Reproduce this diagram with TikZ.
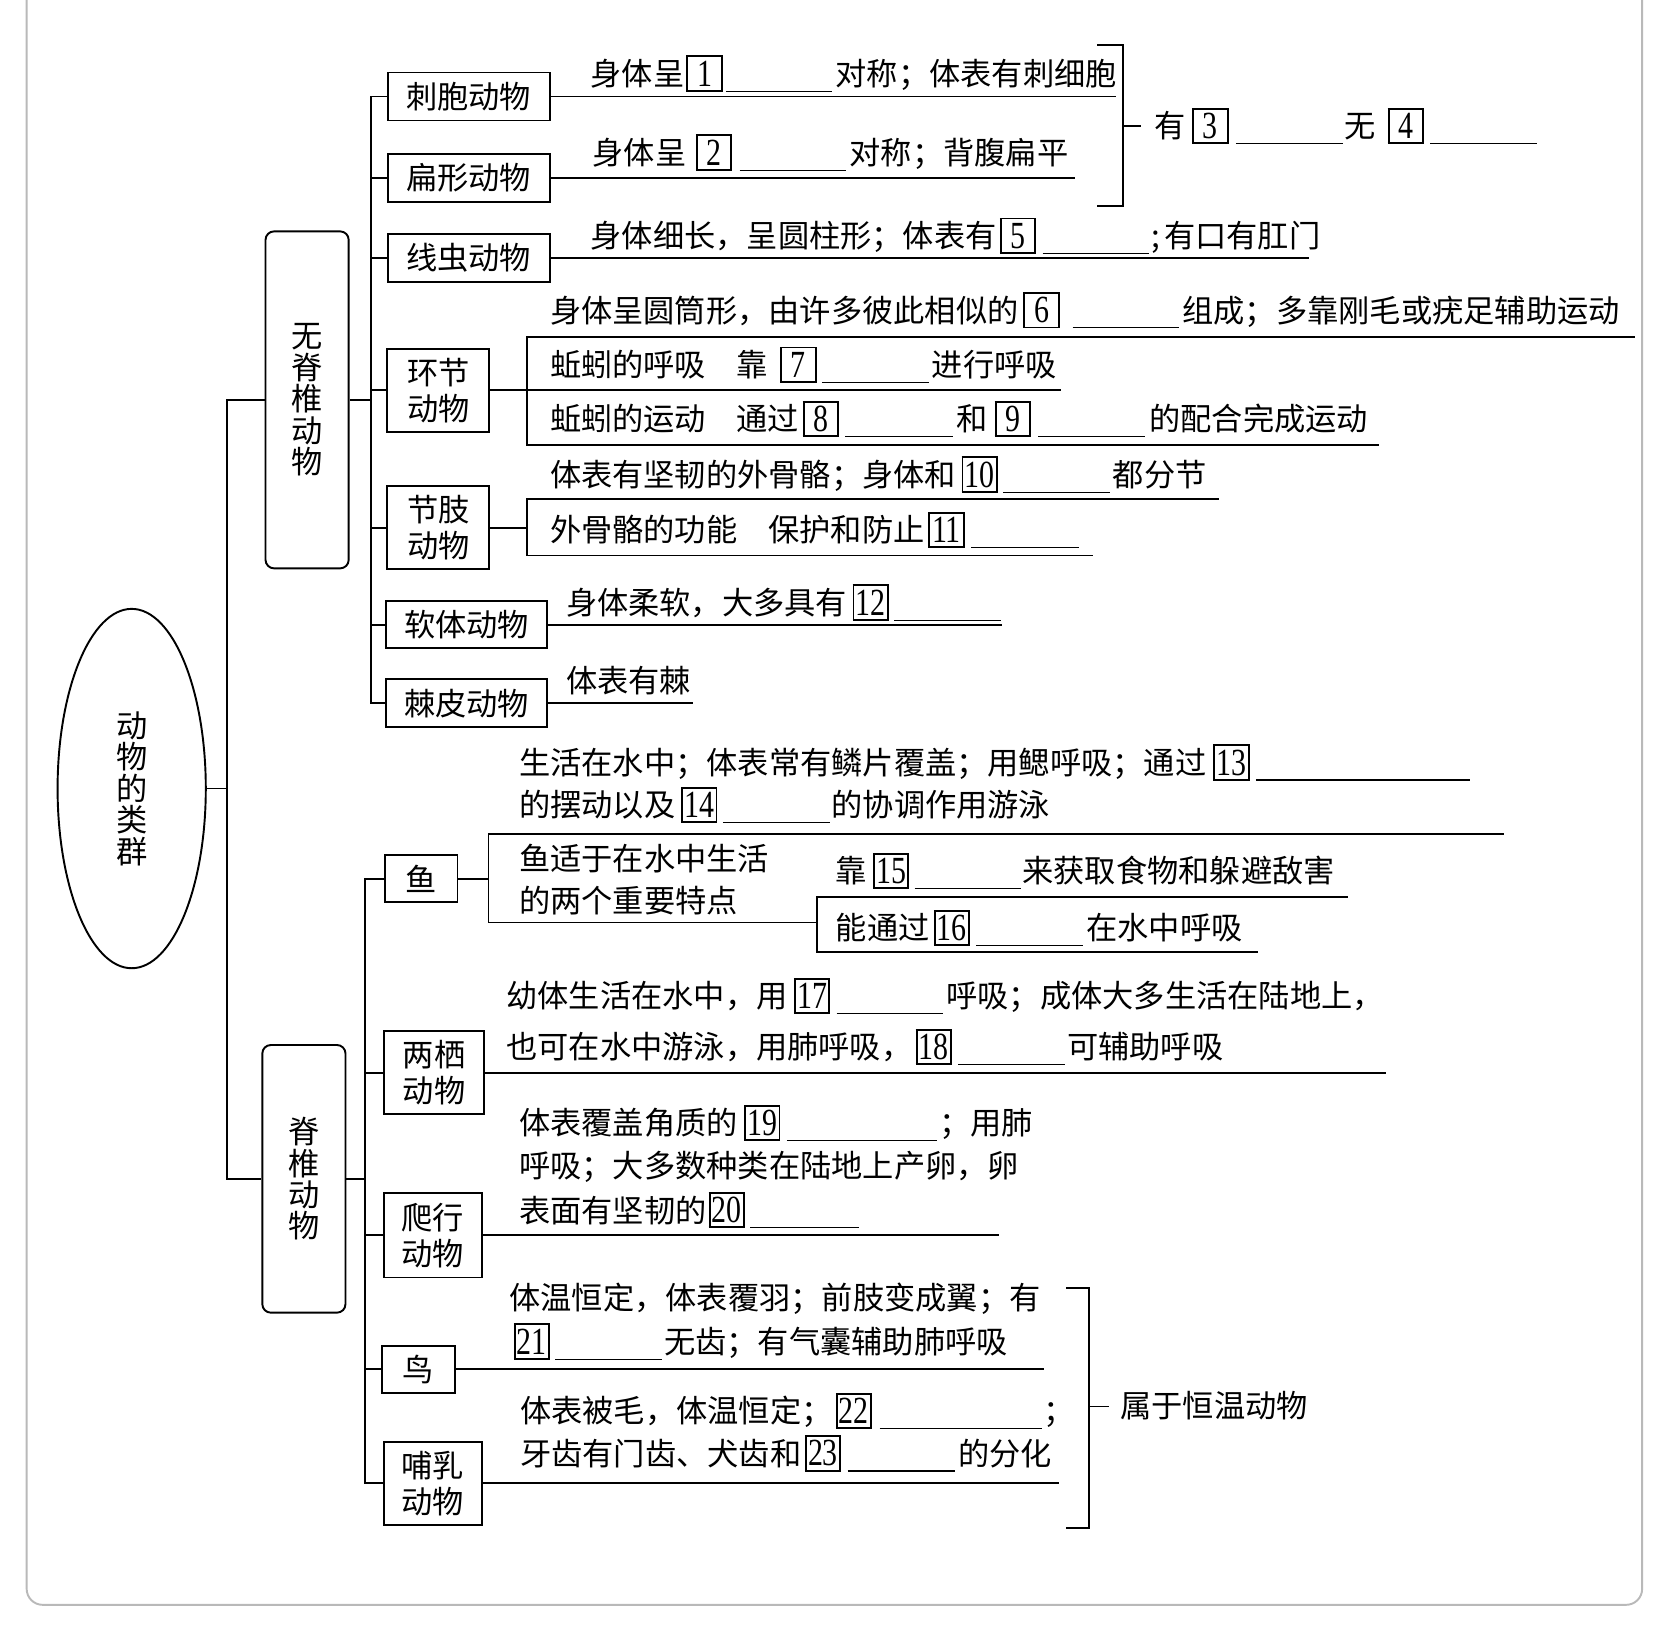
\documentclass[tikz,border=0pt]{standalone}
\usepackage{graphicx}
\usepackage{fontspec}
\setmainfont{Noto Sans CJK SC}
\newfontfamily\digitfont{Liberation Serif}
\usetikzlibrary{shapes.geometric}
\newlength\px \setlength\px{0.5pt}
\newcommand\g[1]{\hspace*{#1\px}}
\newcommand\bl[1]{\rule[-3pt]{#1\px}{0.5pt}}
\newcommand\nb[1]{\raisebox{-2.1pt}{\setlength\fboxsep{0pt}\setlength\fboxrule{0.9pt}\fbox{\rule{0pt}{15.2pt}\makebox[15.2pt]{\raisebox{1.7pt}{\digitfont\fontsize{18}{18}\selectfont\scalebox{0.78}[1]{#1}}}}}}
\begin{document}
\begin{tikzpicture}[x=0.5pt,y=-0.5pt,line width=0.8pt,
  every node/.style={font=\fontsize{14.65}{17}\selectfont,inner sep=0pt},
  txt/.style={anchor=base west},
  catbox/.style={draw,line width=0.9pt,align=center},
  widebox/.style={catbox,minimum width=76pt,minimum height=22.5pt},
  tallbox/.style={catbox,minimum width=47pt,minimum height=39pt},
  smallbox/.style={catbox,minimum width=34pt,minimum height=22pt},
  vtext/.style={draw,line width=0.9pt,rounded corners=4pt,align=center,font=\fontsize{14.65}{14.7}\selectfont},
  frame/.style={draw=gray!55,line width=0.9pt,rounded corners=7.5pt}]
\useasboundingbox (0,0) rectangle (1568,1529);
% outer frame
\draw[frame] (25,0) -- (25,1505) -- (1540,1505) -- (1540,0);
% root
\node[draw,ellipse,line width=0.9pt,minimum width=69.5pt,minimum height=168.5pt,align=center,font=\fontsize{14.65}{14.75}\selectfont] (root) at (123.5,739.5) {动\\物\\的\\类\\群};
\node[vtext,minimum width=39pt,minimum height=158pt] (inv) at (288,375) {无\\脊\\椎\\动\\物};
\node[vtext,minimum width=39pt,minimum height=125.5pt] (vert) at (285,1105.5) {脊\\椎\\动\\物};
% invertebrate boxes
\node[widebox] (cnid) at (439.5,90.5) {刺胞动物};
\node[widebox] (flat) at (439.5,167) {扁形动物};
\node[widebox] (nema) at (439.5,242) {线虫动物};
\node[tallbox,minimum width=48pt] (anne) at (411,366) {环节\\动物};
\node[tallbox,minimum width=48pt] (arth) at (411,495) {节肢\\动物};
\node[widebox,minimum width=75.5pt,minimum height=22pt] (moll) at (437.5,586) {软体动物};
\node[widebox,minimum width=75.5pt] (echi) at (437.5,659.5) {棘皮动物};
% vertebrate boxes
\node[smallbox] (fish) at (395,824) {鱼};
\node[tallbox] (amph) at (407,1006) {两栖\\动物};
\node[tallbox,minimum width=46pt,minimum height=39.5pt] (rept) at (406,1158.5) {爬行\\动物};
\node[smallbox,minimum width=34.5pt] (bird) at (392.5,1284) {鸟};
\node[tallbox,minimum width=46pt] (mamm) at (406,1391) {哺乳\\动物};
% tree lines
\coordinate (tM) at (213,740);
\draw (root.east) -- (root.east -| tM);
\draw (inv.west) -- (inv.west -| tM) -- (vert.west -| tM) -- (vert.west);
\coordinate (tA) at (348,0);
\draw (inv.east) -- (inv.east -| tA);
\draw (cnid.west) -- (cnid.west -| tA) -- (echi.west -| tA) -- (echi.west);
\foreach \n in {flat,nema,anne,arth,moll} \draw (\n.west) -- (\n.west -| tA);
\coordinate (tB) at (342,0);
\draw (vert.east) -- (vert.east -| tB);
\draw (fish.west) -- (fish.west -| tB) -- (mamm.west -| tB) -- (mamm.west);
\foreach \n in {amph,rept,bird} \draw (\n.west) -- (\n.west -| tB);
% lines under texts from boxes
\coordinate (cnidE) at (1047,0);
\coordinate (flatE) at (1008,0);
\coordinate (nemaE) at (1228,0);
\coordinate (mollE) at (940,0);
\coordinate (echiE) at (650,0);
\coordinate (amphE) at (1300,0);
\coordinate (reptE) at (937,0);
\coordinate (birdE) at (979,0);
\coordinate (mammE) at (993,0);
\foreach \n in {cnid,flat,nema,moll,echi,amph,rept,bird,mamm} \draw (\n.east) -- (\n.east -| \n E);
% annelid bracket
\coordinate (annT) at (494,316); \coordinate (annB) at (494,417);
\coordinate (annTe) at (1533,316); \coordinate (annBe) at (1293,417); \coordinate (annMe) at (995,0);
\draw (annTe) -- (annT) -- (annB) -- (annBe);
\draw (anne.east) -- (anne.east -| annMe);
% arthropod bracket
\coordinate (artT) at (494,468); \coordinate (artB) at (494,521);
\coordinate (artTe) at (1143,468); \coordinate (artBe) at (1025,521);
\draw (artTe) -- (artT) -- (artB) -- (artBe);
\draw (arth.east) -- (arth.east -| artT);
% fish bracket
\coordinate (fT) at (458,782); \coordinate (fB) at (458,865);
\coordinate (fTe) at (1410,782); \coordinate (fS) at (766,865);
\draw (fTe) -- (fT) -- (fB) -- (fS);
\draw (fish.east) -- (fish.east -| fT);
\coordinate (fsT) at (766,841); \coordinate (fsB) at (766,893);
\coordinate (fsTe) at (1264,841); \coordinate (fsBe) at (1180,893);
\draw (fsTe) -- (fsT) -- (fsB) -- (fsBe);
% top right bracket
\coordinate (r1a) at (1029,42); \coordinate (r1b) at (1053,42);
\coordinate (r1c) at (1053,193); \coordinate (r1d) at (1029,193);
\coordinate (r1m) at (1053,118); \coordinate (r1t) at (1070,118);
\draw (r1a) -- (r1b) -- (r1c) -- (r1d);
\draw (r1m) -- (r1t);
% bottom right bracket
\coordinate (r2a) at (1000,1208); \coordinate (r2b) at (1021,1208);
\coordinate (r2c) at (1021,1433); \coordinate (r2d) at (1000,1433);
\coordinate (r2m) at (1021,1319); \coordinate (r2t) at (1040,1319);
\draw (r2a) -- (r2b) -- (r2c) -- (r2d);
\draw (r2m) -- (r2t);
% texts
\node[txt] (t1) at (553,80) {身体呈\g{2}\nb{1}\g{3}\bl{100}\g{3}对称；体表有刺细胞};
\node[txt] (t2) at (555,154) {身体呈\g{9}\nb{2}\g{7}\bl{100}\g{3}对称；背腹扁平};
\node[txt] (t3) at (1082,129) {有\g{6}\nb{3}\g{7}\bl{100}\g{2}无\g{11}\nb{4}\g{6}\bl{100}};
\node[txt] (t5) at (553,232) {身体细长，呈圆柱形；体表有\g{3}\nb{5}\g{6}\bl{100}\g{2};\g{4}有口有肛门};
\node[txt] (t6) at (515,302) {身体呈圆筒形，由许多彼此相似的\g{4.5}\nb{6}\g{12}\bl{100}\g{3}组成；多靠刚毛或疣足辅助运动};
\node[txt] (t7) at (515,353) {蚯蚓的呼吸\g{28.5}靠\g{11.7}\nb{7}\g{5}\bl{100}\g{3}进行呼吸};
\node[txt] (t8) at (515,404) {蚯蚓的运动\g{28.5}通过\g{3.4}\nb{8}\g{6}\bl{101}\g{3}和\g{6.7}\nb{9}\g{7}\bl{100}\g{4}的配合完成运动};
\node[txt] (t10) at (515,456) {体表有坚韧的外骨骼；身体和\g{5}\nb{10}\g{5}\bl{100}\g{3}都分节};
\node[txt] (t11) at (515,508) {外骨骼的功能\g{29}保护和防止\g{3.5}\nb{11}\g{6}\bl{101}};
\node[txt] (t12) at (530,576) {身体柔软，大多具有\g{5}\nb{12}\g{5}\bl{100}};
\node[txt] (t12b) at (530,649) {体表有棘};
\node[txt] (t13) at (486,726) {生活在水中；体表常有鳞片覆盖；用鳃呼吸；通过\g{6.4}\nb{13}\g{6}\bl{201}};
\node[txt] (t14) at (486,766) {的摆动以及\g{5.5}\nb{14}\g{5}\bl{101}\g{1}的协调作用游泳};
\node[txt] (tf1) at (486,816) {鱼适于在水中生活};
\node[txt] (tf2) at (486,856) {的两个重要特点};
\node[txt] (t15) at (783,828) {靠\g{5.7}\nb{15}\g{5}\bl{100}\g{1}来获取食物和躲避敌害};
\node[txt] (t16) at (783,881) {能通过\g{4}\nb{16}\g{6}\bl{100}\g{3}在水中呼吸};
\node[txt] (t17) at (474,945) {幼体生活在水中，用\g{6}\nb{17}\g{6}\bl{100}\g{3}呼吸；成体大多生活在陆地上，};
\node[txt] (t18) at (474,993) {也可在水中游泳，用肺呼吸，\g{3}\nb{18}\g{6}\bl{100}\g{2}可辅助呼吸};
\node[txt] (t19) at (486,1064) {体表覆盖角质的\g{6}\nb{19}\g{6}\bl{141}\g{2}；用肺};
\node[txt] (t19b) at (486,1104) {呼吸；大多数种类在陆地上产卵，卵};
\node[txt] (t20) at (486,1146) {表面有坚韧的\g{2}\nb{20}\g{5}\bl{102}};
\node[txt] (t21a) at (477,1228) {体温恒定，体表覆羽；前肢变成翼；有};
\node[txt] (t21) at (481,1269) {\nb{21}\g{5}\bl{100}\g{2}无齿；有气囊辅助肺呼吸};
\node[txt] (t22) at (487,1334) {体表被毛，体温恒定；\g{3}\nb{22}\g{7}\bl{152}\g{2}；};
\node[txt] (t23) at (487,1374) {牙齿有门齿、犬齿和\g{3.3}\nb{23}\g{6}\bl{101}\g{3}的分化};
\node[txt] (tw) at (1050,1329) {属于恒温动物};
\end{tikzpicture}
\end{document}
